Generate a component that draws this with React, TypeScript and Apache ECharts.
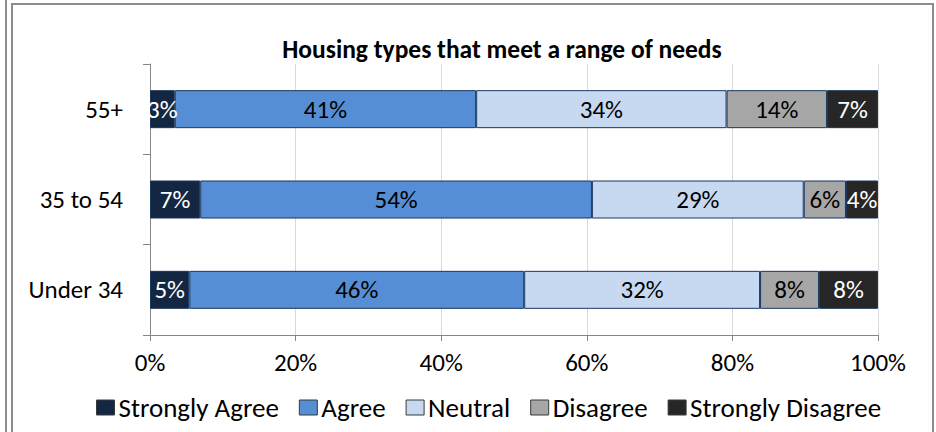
import React, { useEffect, useRef } from "react";
import * as echarts from "echarts";

const categories = ["Under 34", "35 to 54", "55+"];
const seriesNames = ["Strongly Agree", "Agree", "Neutral", "Disagree", "Strongly Disagree"];
const stronglyAgree = [5.4, 6.9, 3.4];
const agree = [46.0, 53.8, 41.4];
const neutral = [32.4, 29.1, 34.4];
const disagree = [8.1, 5.8, 13.8];
const stronglyDisagree = [8.1, 4.4, 7.0];
const xTicks = [0, 20, 40, 60, 80, 100];
const colors = ["#132743", "#558ED5", "#C6D9F1", "#A6A6A6", "#262626"];
const labelColors = ["#FFFFFF", "#000000", "#000000", "#000000", "#FFFFFF"];

const FONT = "Carlito, 'Open Sans', sans-serif";
const FS = 25;

export default function App() {
  const ref = useRef<HTMLDivElement>(null);
  useEffect(() => {
    if (!ref.current) return;
    const chart = echarts.init(ref.current, null, { renderer: "svg" });
    const all = [stronglyAgree, agree, neutral, disagree, stronglyDisagree];
    chart.setOption({
      animation: false,
      textStyle: { fontFamily: FONT },
      title: {
        text: "Housing types that meet a range of needs",
        left: 497,
        top: 31,
        textAlign: "center",
        textStyle: { fontFamily: FONT, fontWeight: "bold", fontSize: 25.5, color: "#000" },
      },
      graphic: [
        { type: "rect", shape: { x: 5, y: -5, width: 2, height: 450 }, style: { fill: "#8c8c8c" } },
        { type: "rect", shape: { x: 12, y: 4, width: 921, height: 440 }, style: { fill: "none", stroke: "#8c8c8c", lineWidth: 2 } },
      ],
      legend: {
        left: 91,
        top: 389,
        itemWidth: 18,
        itemHeight: 15,
        itemGap: 20,
        icon: "rect",
        itemStyle: { borderColor: "#3a3a3a", borderWidth: 1 },
        textStyle: { fontFamily: FONT, fontSize: 27, color: "#000", padding: [0, 0, 0, -1] },
        data: seriesNames,
      },
      grid: { left: 150, right: 58, top: 64, bottom: 97, containLabel: false },
      xAxis: {
        type: "value",
        min: 0,
        max: 100,
        interval: 20,
        axisLine: { show: true, lineStyle: { color: "#868686" } },
        axisTick: { show: true, length: 6, lineStyle: { color: "#868686" } },
        axisLabel: {
          formatter: (v: number) => (xTicks.includes(v) ? v + "%" : ""),
          fontFamily: FONT,
          fontSize: FS,
          color: "#000",
          margin: 15,
        },
        splitLine: { show: true, lineStyle: { color: "#D9D9D9" } },
      },
      yAxis: {
        type: "category",
        data: categories,
        axisLine: { show: true, lineStyle: { color: "#868686" } },
        axisTick: { show: true, length: 7, lineStyle: { color: "#868686" } },
        axisLabel: { fontFamily: FONT, fontSize: FS, color: "#000", margin: 27 },
      },
      series: seriesNames.map((name, i) => ({
        name,
        type: "bar",
        stack: "total",
        barWidth: 38,
        data: all[i],
        itemStyle: { color: colors[i], borderColor: "#17375E", borderWidth: 1 },
        label: {
          show: true,
          position: "inside",
          formatter: (p: any) => Math.round(p.value) + "%",
          fontFamily: FONT,
          fontSize: FS,
          color: labelColors[i],
        },
      })),
    });
    return () => chart.dispose();
  }, []);
  return (
    <div
      ref={ref}
      style={{ position: "fixed", left: 0, top: 0, width: 936, height: 432, background: "#fff" }}
    />
  );
}
